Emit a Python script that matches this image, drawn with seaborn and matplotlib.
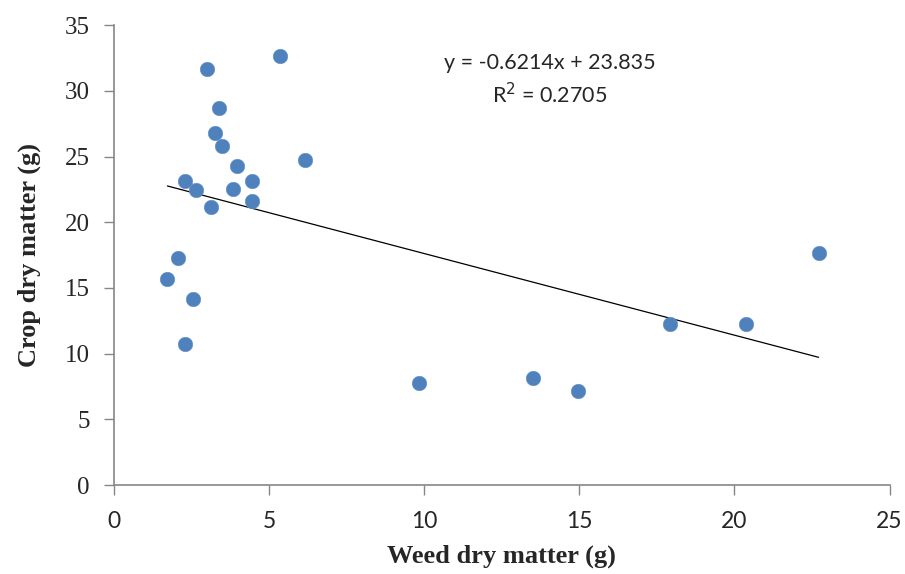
import numpy as np
import pandas as pd
import matplotlib
matplotlib.use("Agg")
import matplotlib.pyplot as plt
import seaborn as sns

# weed vs crop dry matter
weed_dm = [5.36, 2.99, 3.38, 3.25, 3.47, 3.95, 6.14, 2.30, 4.46, 2.64, 3.84,
           4.46, 3.11, 2.06, 1.72, 2.53, 2.29, 9.83, 13.50, 14.95, 17.91,
           20.36, 22.71]
crop_dm = [32.65, 31.70, 28.67, 26.81, 25.80, 24.30, 24.71, 23.11, 23.11,
           22.45, 22.55, 21.64, 21.18, 17.28, 15.70, 14.13, 10.73, 7.76,
           8.14, 7.15, 12.25, 12.25, 17.66]
slope = -0.6214
intercept = 23.835
r2 = 0.2705
x_ticks = [0, 5, 10, 15, 20, 25]
y_ticks = [0, 5, 10, 15, 20, 25, 30, 35]

df = pd.DataFrame({"weed": weed_dm, "crop": crop_dm})
xs = np.array([min(weed_dm), max(weed_dm)])
trend = pd.DataFrame({"weed": xs, "crop": slope * xs + intercept})

sns.set_style("white")
fig = plt.figure(figsize=(9.05, 5.74), dpi=100)
ax = fig.add_axes([0.126, 0.155, 0.857, 0.801])

sns.lineplot(data=trend, x="weed", y="crop", color="black", linewidth=0.9, ax=ax)
sns.scatterplot(data=df, x="weed", y="crop", color="#4F81BD", s=110,
                edgecolor="#6a94c8", linewidth=0.4, ax=ax, zorder=3)

ax.set_xlim(0, 25)
ax.set_ylim(0, 35)
ax.set_xticks(x_ticks)
ax.set_yticks(y_ticks)
ax.set_xticklabels([str(v) for v in x_ticks], family="Lato", fontsize=16.5)
ax.set_yticklabels([str(v) for v in y_ticks], family="Liberation Serif", fontsize=18)
ax.tick_params(axis="both", direction="out", length=7.5, width=1, color="#868686",
               bottom=True, left=True)
ax.tick_params(axis="x", pad=11)
ax.tick_params(axis="y", pad=10)

for side in ["top", "right"]:
    ax.spines[side].set_visible(False)
for side in ["left", "bottom"]:
    ax.spines[side].set_color("#868686")
    ax.spines[side].set_linewidth(1.2)

ax.set_xlabel("Weed dry matter (g)", family="Liberation Serif", fontsize=19,
              fontweight="bold", labelpad=9)
ax.set_ylabel("Crop dry matter (g)", family="Liberation Serif", fontsize=19,
              fontweight="bold", labelpad=17)

ax.text(14.05, 32.1, f"y = {slope}x + {intercept}", family="Lato", fontsize=15.5,
        ha="center", va="center")
ax.text(14.05, 29.7, f"R$^2$ = {r2}", family="Lato", fontsize=15.5,
        ha="center", va="center")

fig.savefig("out.png", dpi=100)
